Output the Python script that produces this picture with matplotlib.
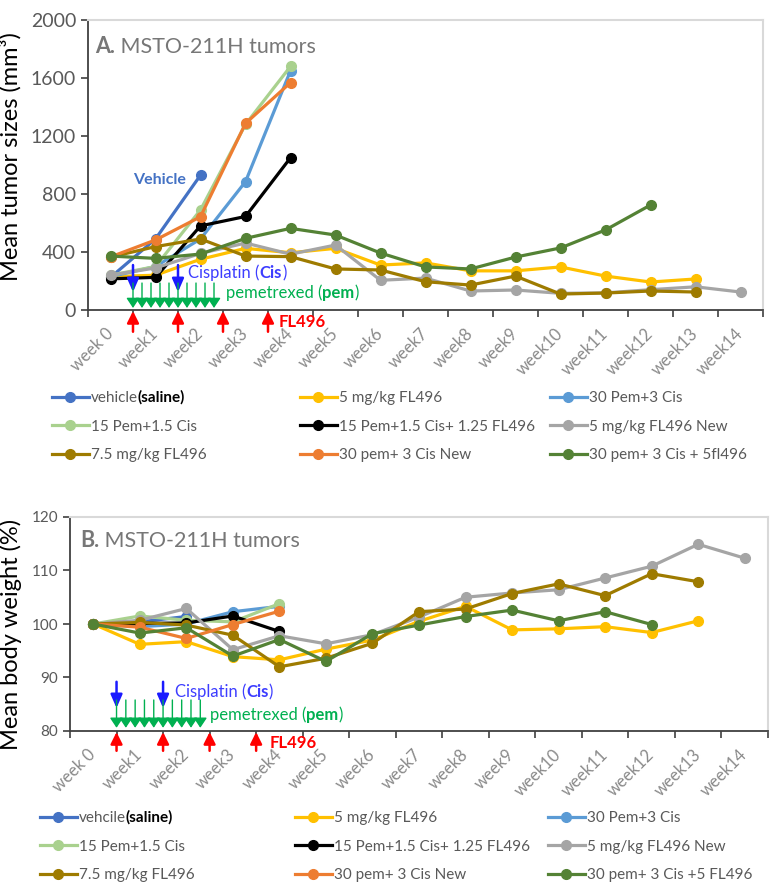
import numpy as np
import matplotlib
matplotlib.use("Agg")
import matplotlib.pyplot as plt
from matplotlib.text import Annotation

plt.rcParams['font.family'] = ['Lato', 'DejaVu Sans']

weeks = ["week 0"] + ["week%d" % i for i in range(1, 15)]

# A. mean tumor size (mm3)
vehicle_a = [225, 490, 930]
fl5_a = [230, 240, 350, 425, 395, 425, 310, 325, 270, 270, 297, 234, 193, 214]
pc30_a = [230, 300, 490, 885, 1650]
pc15_a = [240, 300, 690, 1280, 1680]
pcf_a = [215, 225, 580, 645, 1050]
fl5new_a = [240, 290, 390, 462, 385, 448, 205, 220, 131, 138, 115, 118, 140, 160, 124]
fl75_a = [365, 437, 490, 372, 368, 283, 276, 195, 172, 234, 110, 117, 131, 124]
pc30new_a = [366, 483, 643, 1287, 1568]
pcfl_a = [372, 356, 386, 494, 563, 517, 393, 297, 283, 365, 428, 552, 724]

# B. mean body weight (%)
vehicle_b = [100, 100.4, 101.4]
fl5_b = [100, 96.2, 96.7, 93.9, 93.3, 95.3, 97.0, 100.5, 103.3, 98.9, 99.1, 99.5, 98.4, 100.6]
pc30_b = [100, 99.5, 100.0, 102.3, 103.3]
pc15_b = [100, 101.5, 100.7, 100.4, 103.8]
pcf_b = [100, 100.1, 100.2, 101.5, 98.6]
fl5new_b = [100, 100.7, 102.9, 95.2, 97.8, 96.3, 98.0, 101.3, 105.0, 105.8, 106.4, 108.6, 110.8, 114.9, 112.3]
fl75_b = [100, 100.3, 99.8, 97.9, 92.0, 93.6, 96.4, 102.3, 102.8, 105.7, 107.5, 105.3, 109.4, 107.9]
pc30new_b = [100, 99.4, 97.3, 99.9, 102.4]
pcfl_b = [100, 98.3, 99.3, 94.0, 97.1, 93.0, 98.2, 99.8, 101.4, 102.6, 100.6, 102.3, 99.9]

names_a = ["vehicle", "5 mg/kg FL496", "30 Pem+3 Cis", "15 Pem+1.5 Cis",
           "15 Pem+1.5 Cis+ 1.25 FL496", "5 mg/kg FL496 New", "7.5 mg/kg FL496",
           "30 pem+ 3 Cis New", "30 pem+ 3 Cis + 5fl496"]
names_b = ["vehcile", "5 mg/kg FL496", "30 Pem+3 Cis", "15 Pem+1.5 Cis",
           "15 Pem+1.5 Cis+ 1.25 FL496", "5 mg/kg FL496 New", "7.5 mg/kg FL496",
           "30 pem+ 3 Cis New", "30 pem+ 3 Cis +5 FL496"]
colors = ["#4472C4", "#FFC000", "#5B9BD5", "#A9D18E", "#000000",
          "#A5A5A5", "#9E7B00", "#ED7D31", "#548235"]

data_a = [vehicle_a, fl5_a, pc30_a, pc15_a, pcf_a, fl5new_a, fl75_a, pc30new_a, pcfl_a]
data_b = [vehicle_b, fl5_b, pc30_b, pc15_b, pcf_b, fl5new_b, fl75_b, pc30new_b, pcfl_b]

cis_x = [0.5, 1.5]
pem_x = [0.5, 0.7, 0.9, 1.1, 1.3, 1.5, 1.7, 1.9, 2.1, 2.3]
fl_x = [0.5, 1.5, 2.5, 3.5]

W, H = 773, 883
fig = plt.figure(figsize=(W / 100, H / 100), dpi=100)
ax1 = fig.add_axes([88 / W, 1 - 310 / H, 675 / W, 290 / H])
ax2 = fig.add_axes([70 / W, 1 - 731 / H, 698 / W, 214 / H])


def draw(ax, series, names):
    lines = []
    for vals, name, c in zip(series, names, colors):
        l, = ax.plot(range(len(vals)), vals, '-o', color=c, lw=2.3, ms=7, label=name)
        lines.append(l)
    return lines


def style(ax, ylim, yticks, ysize):
    ax.set_xlim(-0.5, 14.5)
    ax.set_ylim(*ylim)
    ax.set_yticks(yticks)
    ax.set_xticks(range(15))
    ax.set_xticklabels(weeks, rotation=45, ha='right', va='center',
                       rotation_mode='anchor', color='#8a8a8a', fontsize=12)
    ax.set_xticks(np.arange(-0.5, 15, 1), minor=True)
    ax.tick_params(axis='x', which='major', length=0, pad=15)
    ax.tick_params(axis='x', which='minor', length=5, width=1.2, color='#404040')
    ax.tick_params(axis='y', length=5, width=1.2, color='#404040',
                   labelcolor='#595959', labelsize=ysize)
    for s in ['top', 'right']:
        ax.spines[s].set_color('#d9d9d9')
        ax.spines[s].set_linewidth(1.5)
    for s in ['left', 'bottom']:
        ax.spines[s].set_color('#404040')
        ax.spines[s].set_linewidth(1.3)


def chain(ax, x, y, parts, color, size, coords='data'):
    # write text pieces one after another (normal / bold)
    t = ax.text(x, y, parts[0][0], color=color, fontsize=size,
                fontweight=parts[0][1], va='center',
                transform=ax.transData if coords == 'data' else ax.transAxes)
    for s, w in parts[1:]:
        t = ax.annotate(s, xy=(1, 0), xycoords=t, va='bottom', ha='left',
                        color=color, fontsize=size, fontweight=w)


def arrow(ax, x0, y0, x1, y1, color, lw, hw, hl, ms):
    ax.annotate("", xy=(x1, y1), xytext=(x0, y0), annotation_clip=False,
                arrowprops=dict(arrowstyle='-|>,head_width=%s,head_length=%s' % (hw, hl),
                                color=color, lw=lw, mutation_scale=ms,
                                shrinkA=0, shrinkB=0))


def treatments(ax, cis, pem, fl, txt):
    for x in cis_x:
        arrow(ax, x, cis[0], x, cis[1], '#1a1aff', 1.8, 0.35, 0.8, 10)
    for x in pem_x:
        arrow(ax, x, pem[0], x, pem[1], '#00B050', 1.0, 0.4, 0.6, 10)
    for x in fl_x:
        arrow(ax, x, fl[0], x, fl[1], '#FF0000', 1.8, 0.35, 0.7, 10)
    chain(ax, txt[0][0], txt[0][1], [("Cisplatin (", 'normal'), ("Cis", 'bold'), (")", 'normal')],
          '#3d3dff', 12)
    chain(ax, txt[1][0], txt[1][1], [("pemetrexed (", 'normal'), ("pem", 'bold'), (")", 'normal')],
          '#00B050', 12)
    ax.text(txt[2][0], txt[2][1], "FL496", color='#FF0000', fontsize=12,
            fontweight='bold', va='center')


def legends(lines, y_top, xs):
    legs = []
    for c in range(3):
        hs = [lines[c + 3 * r] for r in range(3)]
        leg = fig.legend(handles=hs, loc='upper left',
                         bbox_to_anchor=(xs[c] / W, 1 - y_top / H),
                         frameon=False, fontsize=11, handlelength=2.4,
                         handletextpad=0.15, labelspacing=0.95, borderpad=0,
                         borderaxespad=0, labelcolor='#595959')
        legs.append(leg)
    extra = Annotation("(saline)", xy=(1, 0), xycoords=legs[0].get_texts()[0],
                       va='bottom', ha='left', fontsize=11, fontweight='bold',
                       color='black')
    extra.set_zorder(10)
    fig.add_artist(extra)


# ---- panel A
lines_a = draw(ax1, data_a, names_a)
style(ax1, (0, 2000), range(0, 2001, 400), 14)
ax1.set_ylabel("Mean tumor sizes (mm³)", fontsize=17)
ax1.yaxis.set_label_coords(-0.098, 0.53)
chain(ax1, 0.01, 0.907, [("A.", 'bold'), (" MSTO-211H tumors", 'normal')], '#777777', 15.5, 'axes')
ax1.text(1.1, 897, "Vehicle", color='#4472C4', fontsize=11.5, fontweight='bold',
         ha='center', va='center')
treatments(ax1, (310, 124), (186, 14), (-150, -7),
           [(1.73, 255), (2.56, 117), (3.73, -83)])
legends(lines_a, 391, [52, 300, 550])

# ---- panel B
lines_b = draw(ax2, data_b, names_b)
style(ax2, (80, 120), range(80, 121, 10), 11)
ax2.set_ylabel("Mean body weight (%)", fontsize=17)
ax2.yaxis.set_label_coords(-0.069, 0.45)
chain(ax2, 0.014, 0.89, [("B.", 'bold'), (" MSTO-211H tumors", 'normal')], '#777777', 15.5, 'axes')
treatments(ax2, (89.2, 84.3), (85.8, 80.6), (76.3, 79.8),
           [(1.76, 87.3), (2.5, 83.0), (3.8, 77.8)])
legends(lines_b, 811, [40, 295, 548])

fig.savefig("out.png", dpi=100)
